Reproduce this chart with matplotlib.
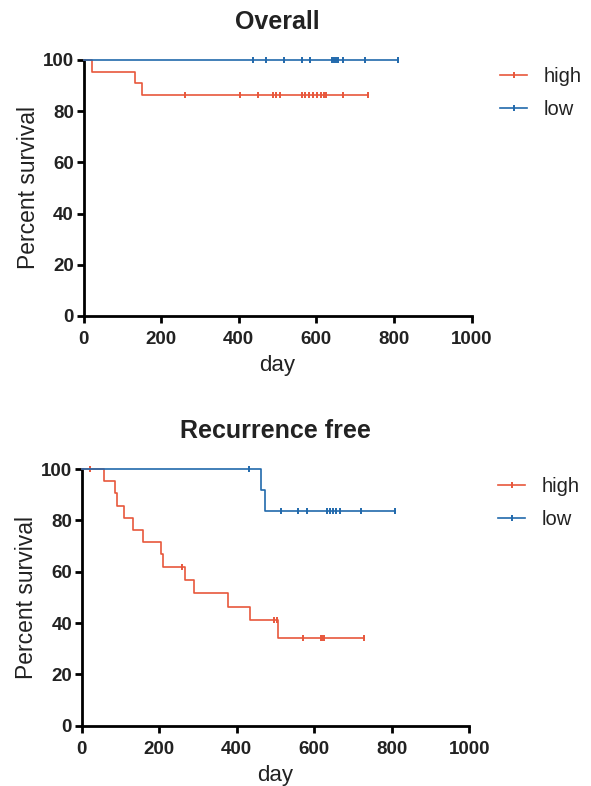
import numpy as np
import matplotlib
matplotlib.use("Agg")
import matplotlib.pyplot as plt
from matplotlib.lines import Line2D

plt.rcParams['font.family'] = ['Liberation Sans', 'DejaVu Sans']

# ---------------- data ----------------
groups = ["high", "low"]

# Overall survival
ov_high_event_t = [22, 134, 152]
ov_high_event_s = [95.45, 90.9, 86.4]
ov_high_censor = [261, 404, 451, 488, 497, 506, 562, 572, 582, 592, 602,
                  612, 620, 625, 669, 732]
ov_low_event_t = []
ov_low_event_s = []
ov_low_censor = [436, 470, 518, 562, 585, 640, 645, 650, 655, 669, 725, 810]

# Recurrence free survival
rf_high_event_t = [56, 86, 92, 108, 131, 157, 205, 210, 266, 290, 377, 434, 506]
rf_high_event_s = [95.2, 90.5, 85.7, 81.0, 76.2, 71.4, 66.7, 61.9, 56.6,
                   51.6, 46.3, 41.1, 34.3]
rf_high_censor = [20, 258, 495, 503, 570, 617, 621, 625, 728]
rf_low_event_t = [463, 473]
rf_low_event_s = [91.9, 83.6]
rf_low_censor = [431, 514, 557, 580, 633, 641, 649, 655, 667, 721, 807]

titles = ["Overall", "Recurrence free"]
xticks = [0, 200, 400, 600, 800, 1000]
yticks = [0, 20, 40, 60, 80, 100]

colors = {"high": "#E8573C", "low": "#2169AC"}

W, H = 591, 786
fig = plt.figure(figsize=(W / 100, H / 100), dpi=100)


def px_axes(x0, x1, y_top, y_bot):
    return fig.add_axes([x0 / W, 1 - y_bot / H, (x1 - x0) / W, (y_bot - y_top) / H])


def surv_at(t, ev_t, ev_s):
    s = 100.0
    for et, es in zip(ev_t, ev_s):
        if et <= t:
            s = es
    return s


def draw_km(ax, ev_t, ev_s, cens, color):
    end = max(list(cens) + list(ev_t))
    xs = [0] + list(ev_t) + [end]
    ys = [100] + list(ev_s) + [ev_s[-1] if ev_s else 100]
    ax.step(xs, ys, where="post", color=color, lw=1.2, clip_on=False, zorder=3)
    cy = [surv_at(t, ev_t, ev_s) for t in cens]
    ax.plot(cens, cy, ls="none", marker="|", ms=5, mew=1.4, color=color,
            clip_on=False, zorder=3)


panels = [
    (px_axes(83.5, 471.5, 60, 316),
     [(ov_high_event_t, ov_high_event_s, ov_high_censor),
      (ov_low_event_t, ov_low_event_s, ov_low_censor)],
     (500, 67)),
    (px_axes(81.8, 469.3, 469, 725.7),
     [(rf_high_event_t, rf_high_event_s, rf_high_censor),
      (rf_low_event_t, rf_low_event_s, rf_low_censor)],
     (498, 477)),
]

for i, (ax, series, leg_pos) in enumerate(panels):
    for g, (et, es, cs) in zip(groups, series):
        draw_km(ax, et, es, cs, colors[g])
    ax.set_xlim(0, 1000)
    ax.set_ylim(0, 100)
    ax.set_xticks(xticks)
    ax.set_yticks(yticks)
    for side in ("top", "right"):
        ax.spines[side].set_visible(False)
    for side in ("left", "bottom"):
        ax.spines[side].set_linewidth(2)
    ax.tick_params(direction="out", length=5, width=2, labelsize=13.5,
                   labelcolor="#222222")
    ax.tick_params(axis="x", pad=6)
    ax.tick_params(axis="y", pad=2)
    for lab in ax.get_xticklabels() + ax.get_yticklabels():
        lab.set_fontweight("bold")
    ax.set_xlabel("day", fontsize=16, labelpad=5, color="#222222")
    ax.set_ylabel("Percent survival", fontsize=16.5, labelpad=2, color="#222222")
    ax.set_title(titles[i], fontsize=18, fontweight="bold", pad=22, color="#222222")
    handles = [Line2D([0], [0], color=colors[g], lw=1.2, marker="|", ms=5, mew=1.4)
                for g in groups]
    fig.legend(handles, groups, loc="upper left",
               bbox_to_anchor=(leg_pos[0] / W, 1 - leg_pos[1] / H),
               frameon=False, fontsize=14.5, handlelength=1.35, handletextpad=0.8,
               labelspacing=0.7, borderpad=0, borderaxespad=0, numpoints=1,
               labelcolor="#222222")

fig.savefig("out.png", dpi=100)
